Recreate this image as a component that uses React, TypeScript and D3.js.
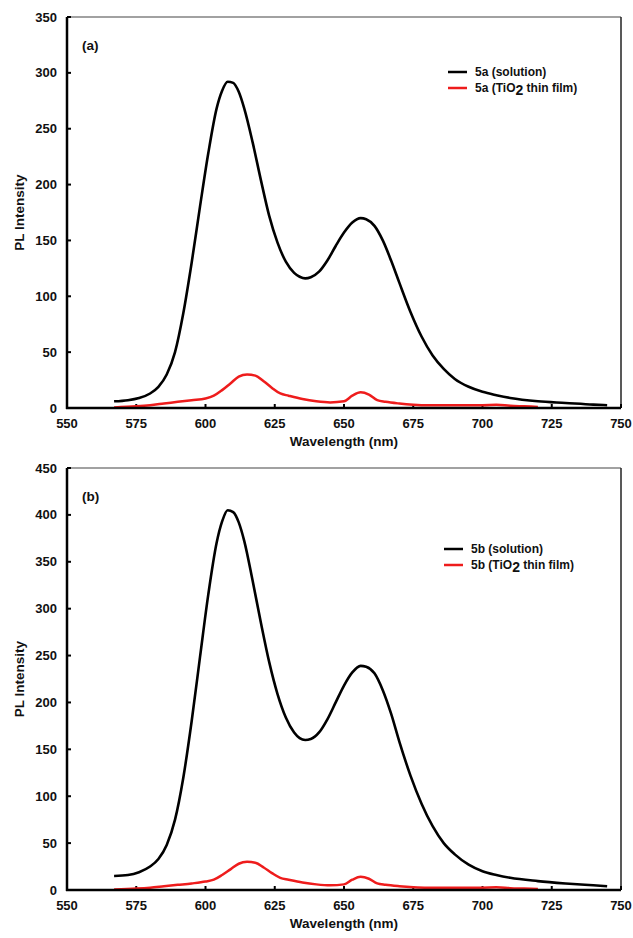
import React from "react";
import * as d3 from "d3";

// ---- Data (wavelength in nm, PL intensity) ----
const xTicks = [550, 575, 600, 625, 650, 675, 700, 725, 750];
const yTicksA = [0, 50, 100, 150, 200, 250, 300, 350];
const yTicksB = [0, 50, 100, 150, 200, 250, 300, 350, 400, 450];

const solutionWlA = [567, 572, 576, 580, 583, 586, 589, 592, 595, 598, 601, 604, 606, 608, 610, 612, 614, 617, 620, 623, 626, 629, 632, 634, 636, 638, 641, 644, 647, 650, 653, 656, 658, 661, 664, 667, 670, 674, 678, 682, 686, 690, 695, 700, 705, 710, 720, 730, 740, 745];
const solutionA = [6, 7, 9, 13, 19, 30, 50, 85, 130, 180, 228, 268, 284, 292, 291, 283, 268, 238, 204, 172, 148, 131, 121, 117.5, 116, 117, 122, 132, 145, 157, 166, 170, 169, 163, 150, 132, 112, 86, 64, 47, 35, 26, 19, 14.5, 11.5, 9, 6, 4.5, 3, 2.5];

const filmWlA = [567, 575, 580, 585, 590, 595, 600, 603, 606, 609, 612, 615, 618, 621, 624, 627, 630, 635, 640, 645, 650, 653, 656, 659, 662, 665, 670, 675, 680, 690, 700, 705, 710, 715, 720];
const filmA = [0.5, 1.5, 2.5, 4, 5.5, 7, 8.5, 11, 16, 22, 28, 30, 29, 24, 18, 13, 11, 8, 6, 5, 6, 11, 14, 12, 7, 5.5, 4, 3, 2.5, 2.5, 2.5, 2.8, 2, 1.5, 1];

const solutionWlB = [567, 572, 576, 580, 583, 586, 589, 592, 595, 598, 601, 604, 606, 608, 610, 612, 614, 617, 620, 623, 626, 629, 632, 634, 636, 638, 641, 644, 647, 650, 653, 656, 658, 661, 664, 667, 670, 674, 678, 682, 686, 690, 695, 700, 705, 710, 720, 730, 740, 745];
const solutionB = [15, 16, 19, 25, 33, 48, 75, 120, 180, 248, 315, 370, 393, 405, 403, 392, 372, 330, 285, 243, 209, 184, 168, 162, 160, 161, 168, 182, 200, 218, 232, 239, 238, 231, 213, 188, 158, 122, 92, 68, 50, 38, 27, 20, 16, 13, 9.5, 7, 5, 4];

const filmWlB = [567, 575, 580, 585, 590, 595, 600, 603, 606, 609, 612, 615, 618, 621, 624, 627, 630, 635, 640, 645, 650, 653, 656, 659, 662, 665, 670, 675, 680, 690, 700, 705, 710, 715, 720];
const filmB = [0.5, 1.5, 2.5, 4, 5.5, 7, 9, 11, 16, 22, 28, 30, 29, 24, 18, 13, 11, 8, 6, 5, 6, 11, 14, 12, 7, 5.5, 4, 3, 2.5, 2.5, 2.5, 2.8, 2, 1.5, 1];

type Pt = [number, number];
const zip = (xs: number[], ys: number[]): Pt[] => xs.map((x, i) => [x, ys[i]]);

interface PanelProps {
  top: number;
  bottom: number;
  yMax: number;
  yTicks: number[];
  label: string;
  solution: Pt[];
  film: Pt[];
  name: string;
  legendY: number;
  legendX: number;
}

const FONT = "Liberation Sans, Arial, sans-serif";
const LEFT = 67;
const RIGHT = 621;

function Panel(p: PanelProps) {
  const x = d3.scaleLinear().domain([550, 750]).range([LEFT, RIGHT]);
  const y = d3.scaleLinear().domain([0, p.yMax]).range([p.bottom, p.top]);
  const line = d3
    .line<Pt>()
    .x((d) => x(d[0]))
    .y((d) => y(d[1]))
    .curve(d3.curveMonotoneX);
  const midY = (p.top + p.bottom) / 2;
  return (
    <g fontFamily={FONT} fontWeight="bold">
      {/* frame */}
      <line x1={LEFT} x2={RIGHT} y1={p.top} y2={p.top} stroke="#444" strokeWidth={1.2} />
      <line x1={RIGHT} x2={RIGHT} y1={p.top} y2={p.bottom} stroke="#222" strokeWidth={1.5} />
      {/* y ticks */}
      {p.yTicks.map((t) => (
        <g key={"y" + t}>
          <line x1={LEFT} x2={LEFT + 4} y1={y(t)} y2={y(t)} stroke="#000" strokeWidth={2} />
          <text x={LEFT - 10} y={y(t)} dy="0.35em" textAnchor="end" fontSize={13} fill="#111">
            {t}
          </text>
        </g>
      ))}
      {/* x ticks */}
      {xTicks.map((t) => (
        <g key={"x" + t}>
          <line x1={x(t)} x2={x(t)} y1={p.bottom} y2={p.bottom - 4} stroke="#000" strokeWidth={2} />
          <text x={x(t)} y={p.bottom + 15} dy="0.35em" textAnchor="middle" fontSize={13} fill="#111">
            {t}
          </text>
        </g>
      ))}
      <text x={(LEFT + RIGHT) / 2} y={p.bottom + 33} dy="0.35em" textAnchor="middle" fontSize={13.5} fill="#111">
        Wavelength (nm)
      </text>
      <text
        transform={`translate(19,${midY}) rotate(-90)`}
        textAnchor="middle"
        dy="0.35em"
        fontSize={13.5}
        fill="#111"
      >
        PL Intensity
      </text>
      <text x={82} y={p.top + 28} dy="0.35em" fontSize={13.5} fill="#111">
        {p.label}
      </text>
      {/* curves */}
      <path d={line(p.film) || ""} fill="none" stroke="#ee1c1c" strokeWidth={2.5} />
      <path d={line(p.solution) || ""} fill="none" stroke="#000" strokeWidth={2.6} />
      {/* axes */}
      <line x1={LEFT} x2={LEFT} y1={p.top} y2={p.bottom + 1} stroke="#000" strokeWidth={2.5} />
      <line x1={LEFT - 1} x2={RIGHT} y1={p.bottom} y2={p.bottom} stroke="#000" strokeWidth={2.5} />
      {/* legend */}
      <line x1={p.legendX} x2={p.legendX + 19} y1={p.legendY} y2={p.legendY} stroke="#000" strokeWidth={2.5} />
      <text x={p.legendX + 27} y={p.legendY} dy="0.35em" fontSize={12} fill="#111">
        {p.name} (solution)
      </text>
      <line x1={p.legendX} x2={p.legendX + 19} y1={p.legendY + 16} y2={p.legendY + 16} stroke="#ee1c1c" strokeWidth={2.5} />
      <text x={p.legendX + 27} y={p.legendY + 16} dy="0.35em" fontSize={12} fill="#111">
        {p.name} (TiO<tspan fontSize={14} dy="3">2</tspan><tspan dy="-3"> thin film)</tspan>
      </text>
    </g>
  );
}

export default function App() {
  return (
    <svg width={633} height={938} style={{ position: "absolute", left: 0, top: 0, background: "#fff" }}>
      <rect width={633} height={938} fill="#fff" />
      <Panel
        top={17}
        bottom={408}
        yMax={350}
        yTicks={yTicksA}
        label="(a)"
        solution={zip(solutionWlA, solutionA)}
        film={zip(filmWlA, filmA)}
        name="5a"
        legendX={448}
        legendY={72}
      />
      <Panel
        top={468}
        bottom={890}
        yMax={450}
        yTicks={yTicksB}
        label="(b)"
        solution={zip(solutionWlB, solutionB)}
        film={zip(filmWlB, filmB)}
        name="5b"
        legendX={444}
        legendY={549}
      />
    </svg>
  );
}
